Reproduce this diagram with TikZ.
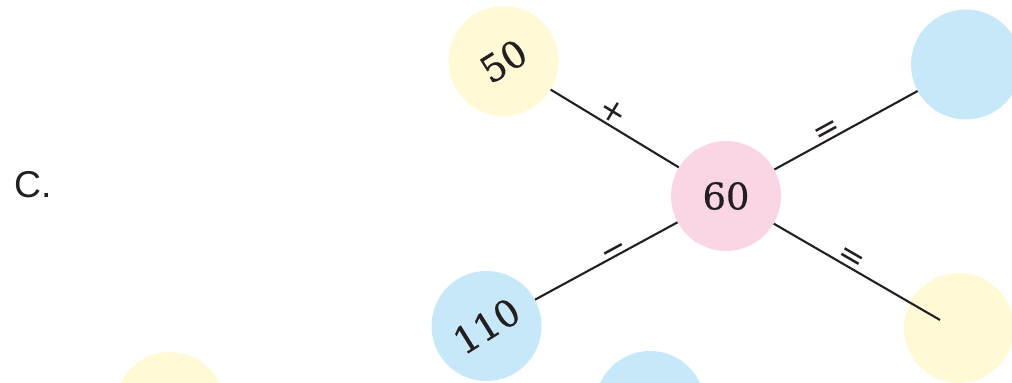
\documentclass[tikz,border=0pt]{standalone}
\usepackage{fontspec}
\setmainfont{DejaVu Serif}
\newfontfamily\numfont[FakeBold=0.6]{DejaVu Serif}
\newfontfamily\labfont{Liberation Sans}
\newfontfamily\signfont{DejaVu Sans}
\definecolor{cyel}{RGB}{255,249,214}
\definecolor{cpink}{RGB}{249,213,230}
\definecolor{cblue}{RGB}{198,232,248}
\definecolor{cline}{RGB}{35,31,32}
\begin{document}
\begin{tikzpicture}[x=1bp,y=1bp,
  disc/.style={circle,minimum size=110bp,inner sep=0pt,draw=none,
    font=\numfont\fontsize{37}{40}\selectfont,text=cline},
  link/.style={draw=cline,line width=2.1bp},
  sign/.style={sloped,font=\signfont\fontsize{32}{34}\selectfont,
    text=cline,inner sep=0pt,anchor=center}]
\useasboundingbox (0,0) rectangle (1012,382);
\clip (0,0) rectangle (1012,382);
\fill[white] (0,0) rectangle (1012,382);
% discs
\node[disc,fill=cpink] (n60) at (726,186) {60};
\node[disc,fill=cyel,rotate=32] (n50) at (503.5,321) {50};
\node[disc,fill=cblue,rotate=32] (n110) at (486.5,56) {110};
\node[disc,fill=cblue] (nTR) at (966,317.5) {};
\node[disc,fill=cyel] (nBR) at (959,54) {};
\node[disc,fill=cyel] (nB1) at (170,-25) {};
\node[disc,fill=cblue] (nB2) at (650,-24) {};
\coordinate (eBR) at (940,62);
% label
\node[font=\labfont\fontsize{37.5}{40}\selectfont,text=cline,anchor=base west,inner sep=0pt] (lab) at (14,185) {C.};
% connectors
\draw[link] (n50) -- node[sign,pos=0.434,yshift=13.6bp] {+} (n60);
\draw[link] (n60) -- node[sign,pos=0.425,yshift=2.1bp] {−} (n110);
\draw[link] (n60) -- node[sign,pos=0.395,yshift=7.4bp] {=} (nTR);
\draw[link] (n60) -- node[sign,pos=0.4376,yshift=8bp] {=} (eBR);
\end{tikzpicture}
\end{document}
